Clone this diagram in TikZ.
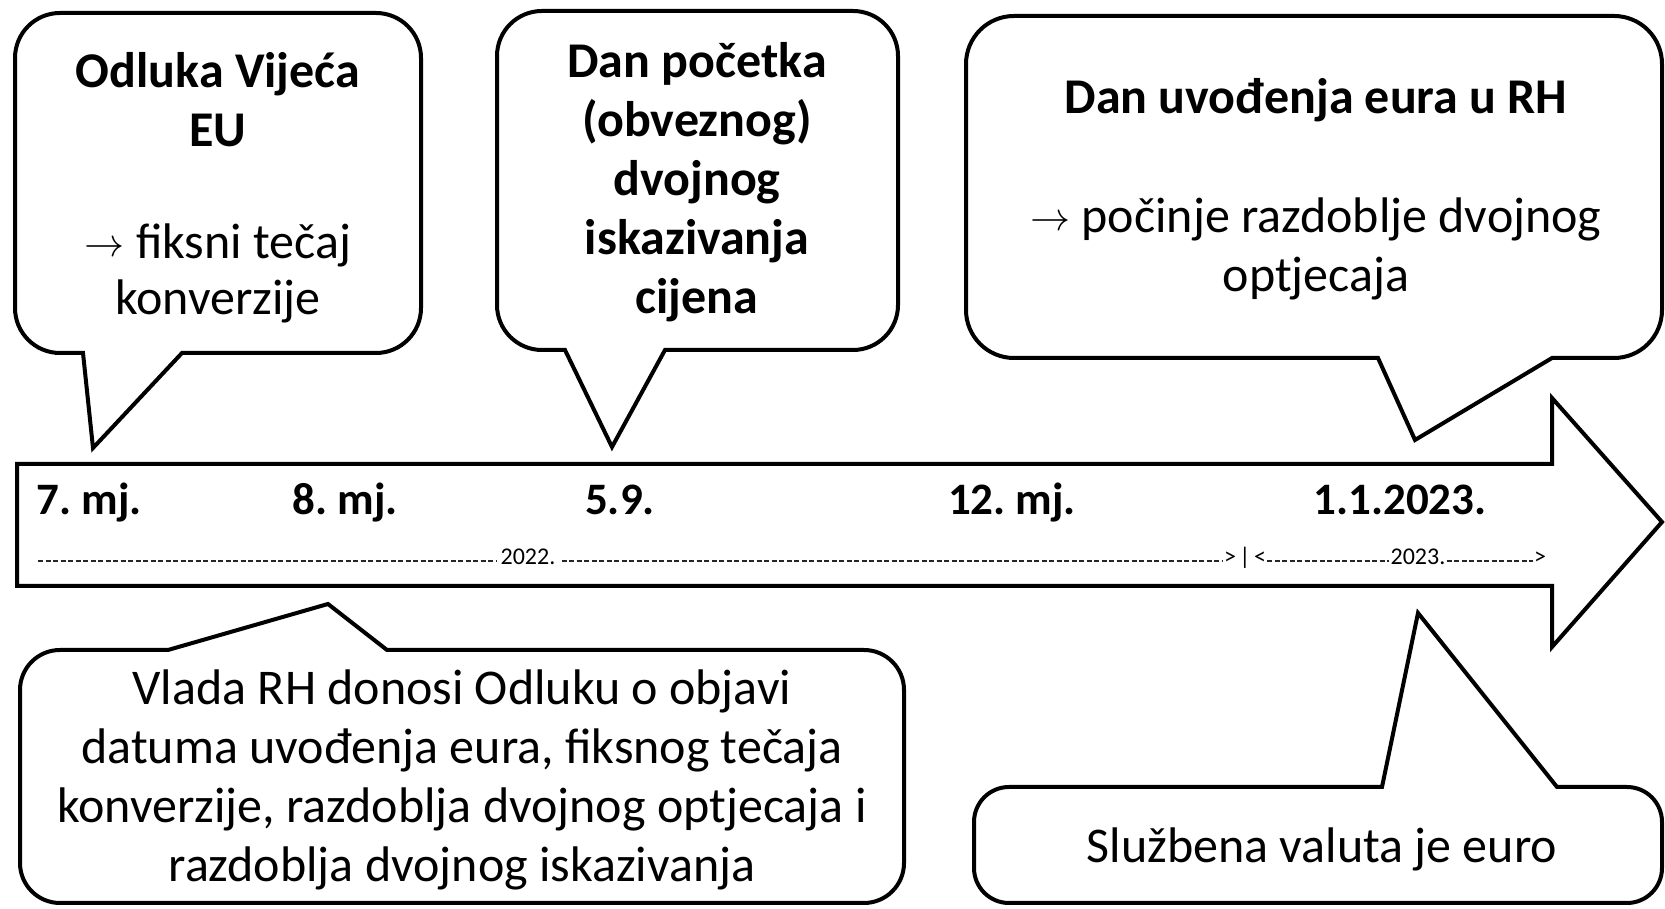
\documentclass[tikz,border=0pt]{standalone}
\usepackage{graphicx}
\usepackage{fontspec}
\setmainfont{Carlito}
\frenchspacing
\newcommand{\myarrow}{\raisebox{2pt}{\fontsize{10}{12}\selectfont\scalebox{4}{$\rightarrow$}}}
% callout with tail at the bottom: L B R T radius a b tip
\newcommand{\callbot}[8]{\draw[cshape] (#6,#2) -- #8 -- (#7,#2) -- ({#3-#5},#2) arc[start angle=270,end angle=360,radius=#5] -- (#3,{#4-#5}) arc[start angle=0,end angle=90,radius=#5] -- ({#1+#5},#4) arc[start angle=90,end angle=180,radius=#5] -- (#1,{#2+#5}) arc[start angle=180,end angle=270,radius=#5] -- cycle;}
% callout with tail at the top
\newcommand{\calltop}[8]{\draw[cshape] (#6,#4) -- #8 -- (#7,#4) -- ({#3-#5},#4) arc[start angle=90,end angle=0,radius=#5] -- (#3,{#2+#5}) arc[start angle=0,end angle=-90,radius=#5] -- ({#1+#5},#2) arc[start angle=270,end angle=180,radius=#5] -- (#1,{#4-#5}) arc[start angle=180,end angle=90,radius=#5] -- cycle;}
\begin{document}
\begin{tikzpicture}[x=1pt,y=1pt,
  cshape/.style={draw=black,line width=4pt,fill=white,line join=miter},
  ttl/.style={font=\fontsize{50}{59}\selectfont\bfseries,anchor=base,inner sep=0pt},
  txt/.style={font=\fontsize{50}{59}\selectfont,anchor=base,inner sep=0pt},
  lbl/.style={font=\fontsize{45}{54}\selectfont\bfseries,anchor=base,inner sep=0pt},
  small/.style={font=\fontsize{24}{28}\selectfont,anchor=base,inner sep=0pt},
  dashline/.style={line width=1.4pt,dash pattern=on 5pt off 2.5pt,black!85}]
\useasboundingbox (0,0) rectangle (1665,909);
\fill[white] (0,0) rectangle (1665,909);

% big timeline arrow
\draw[cshape] (17,445) -- (1552,445) -- (1552,511) -- (1662,387) -- (1552,262) -- (1552,323) -- (17,323) -- cycle;

% arrow labels
\node[lbl] (m7) at (89,394) {7. mj.};
\node[lbl] (m8) at (345,394) {8. mj.};
\node[lbl] (d59) at (620,394) {5.9.};
\node[lbl] (m12) at (1012,394) {12. mj.};
\node[lbl] (d2023) at (1400,394) {1.1.2023.};

% year line
\node[small] (y22) at (528,344) {2022.};
\node[small] (gt1) at (1230,344) {>};
\node[small] (sep) at (1245,344) {|};
\node[small] (lt1) at (1260,344) {<};
\node[small] (y23) at (1418,344) {2023.};
\node[small] (gt2) at (1540,344) {>};
\coordinate (ds) at (38,348);
\draw[dashline] (ds) -- ([xshift=-4pt]y22.west |- ds);
\draw[dashline] ([xshift=6pt]y22.east |- ds) -- ([xshift=-1pt]gt1.west |- ds);
\draw[dashline] ([xshift=1pt]lt1.east |- ds) -- ([xshift=-1pt]y23.west |- ds);
\draw[dashline] ([xshift=1pt]y23.east |- ds) -- ([xshift=-1pt]gt2.west |- ds);

% callout 1
\callbot{15}{556}{421}{896}{45}{83}{182}{(93,461)}
\node[ttl] (c1a) at (218,821) {Odluka Vijeća};
\node[ttl] (c1b) at (218,762) {EU};
\node[txt] (c1c) at (218,650) {\myarrow{} fiksni tečaj};
\node[txt] (c1d) at (218,594) {konverzije};

% callout 2
\callbot{497}{559}{898}{898}{45}{565}{665}{(612,462)}
\node[ttl] (c2a) at (697,831) {Dan početka};
\node[ttl] (c2b) at (697,772) {(obveznog)};
\node[ttl] (c2c) at (697,713) {dvojnog};
\node[ttl] (c2d) at (697,654) {iskazivanja};
\node[ttl] (c2e) at (697,595) {cijena};

% callout 3
\callbot{966}{551}{1662}{893}{48}{1378}{1552}{(1415,469)}
\node[ttl] (c3a) at (1316,795) {Dan uvođenja eura u RH};
\node[txt] (c3b) at (1316,676) {\myarrow{} počinje razdoblje dvojnog};
\node[txt] (c3c) at (1316,617) {optjecaja};

% callout 4
\calltop{20}{6}{904}{259}{40}{168}{387}{(328,305)}
\node[txt] (c4a) at (462,204) {Vlada RH donosi Odluku o objavi};
\node[txt] (c4b) at (462,145) {datuma uvođenja eura, fiksnog tečaja};
\node[txt] (c4c) at (462,86) {konverzije, razdoblja dvojnog optjecaja i};
\node[txt] (c4d) at (462,27) {razdoblja dvojnog iskazivanja};

% callout 5
\calltop{974}{6}{1662}{122}{35}{1382}{1557}{(1418,296)}
\node[txt] (c5a) at (1322,46) {Službena valuta je euro};
\end{tikzpicture}
\end{document}
